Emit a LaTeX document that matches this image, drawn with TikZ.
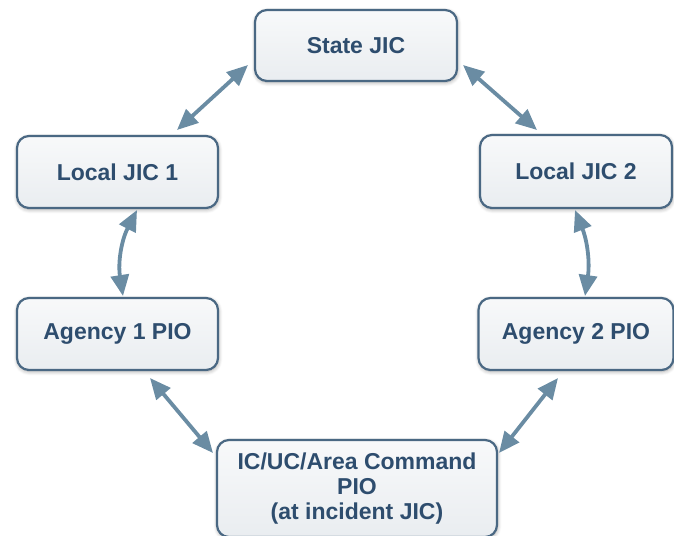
\documentclass[tikz,border=0pt]{standalone}
\usepackage{fontspec}
\setmainfont{Liberation Sans}
\usepackage{tikz}
\usetikzlibrary{positioning, arrows.meta, shadows.blur}
\definecolor{boxline}{HTML}{4A6883}
\definecolor{boxtext}{HTML}{2E4D6E}
\definecolor{arrowc}{HTML}{6A8CA3}
\begin{document}
\begin{tikzpicture}[main/.style = {draw=boxline, line width=2.2pt, rectangle, rounded corners=12pt, top color=boxline!4, bottom color=boxline!12, blur shadow={shadow xshift=0.5pt, shadow yshift=-1.5pt, shadow blur steps=8, shadow blur radius=4pt, shadow opacity=35}, minimum width=201pt, minimum height=72pt, outer sep=0pt, text=boxtext, font=\fontsize{23}{25}\selectfont\bfseries}, link/.style = {draw=arrowc, line width=3.8pt, {Triangle[length=21pt,width=18pt]}-{Triangle[length=21pt,width=18pt]}}, align=center]
\useasboundingbox (0,0) rectangle (674pt,-535pt);
\node[main, minimum width=202pt, minimum height=71pt] (1) at (356pt,-45.5pt) {State JIC};
\node[main] (2) [below left=55pt and 37pt of 1] {Local JIC 1};
\node[main, minimum width=192pt, minimum height=73pt] (3) [below right=54pt and 23pt of 1] {Local JIC 2};
\node[main] (4) [below=90pt of 2] {Agency 1 PIO};
\node[main, minimum width=195pt] (5) [below=90pt of 3] {Agency 2 PIO};
\node[main, minimum width=280pt, minimum height=97pt] (6) [below right=70pt and -1pt of 4] {IC/UC/Area Command\\PIO\\(at incident JIC)};
\draw[link] ([shift={(-7pt,-19.5pt)}]1.west) -- ([shift={(59.5pt,6pt)}]2.north);
\draw[link] ([shift={(6pt,-19.5pt)}]1.east) -- ([shift={(-39pt,5pt)}]3.north);
\draw[link] ([shift={(19.5pt,-2pt)}]2.south) to[bend right=18] ([shift={(5.5pt,2pt)}]4.north);
\draw[link] ([shift={(-1pt,-2pt)}]3.south) to[bend left=15] ([shift={(9pt,2pt)}]5.north);
\draw[link] ([shift={(32.5pt,-8pt)}]4.south) -- ([shift={(-4pt,-13pt)}]6.north west);
\draw[link] ([shift={(-18pt,-8pt)}]5.south) -- ([shift={(2pt,-13pt)}]6.north east);
\end{tikzpicture}
\end{document}
